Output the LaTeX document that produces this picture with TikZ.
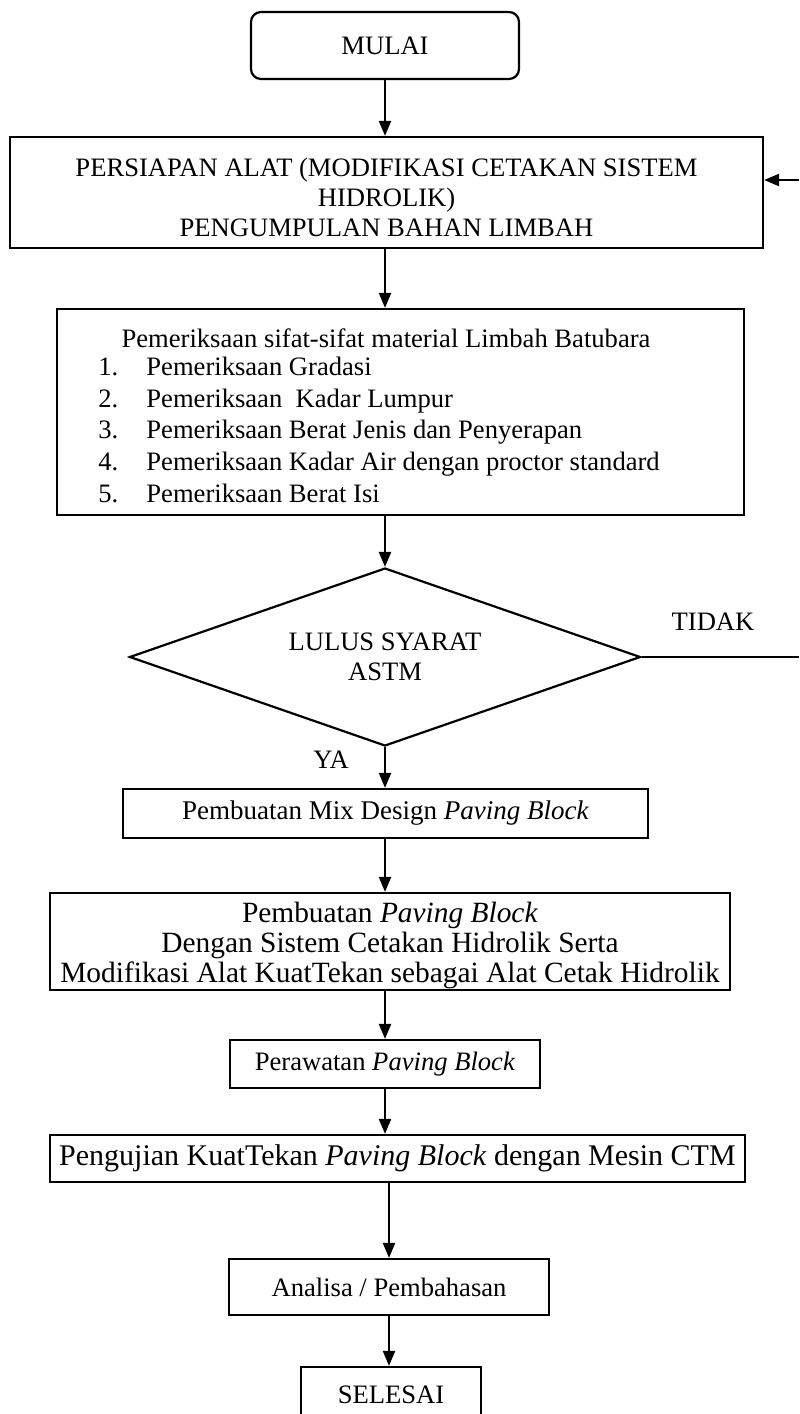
\documentclass[tikz,border=0pt]{standalone}
\usepackage{fontspec}
\setmainfont{Liberation Serif}
\usetikzlibrary{shapes.geometric,arrows.meta}
\tikzset{
	kotak/.style={draw, line width=1.1pt, inner sep=0pt, align=center},
	panah/.style={-{Triangle[width=6pt,length=7.5pt]}, line width=1.1pt},
}
\begin{document}
\begin{tikzpicture}[x=0.5pt,y=-0.5pt,font=\fontsize{13.3}{15}\selectfont]
		\useasboundingbox (0,0) rectangle (799,1414);
		\clip (0,0) rectangle (799,1414);
		\node [kotak, rounded corners=5pt, minimum width=134pt, minimum height=33.5pt] (mulai) at (385,45.5) {MULAI};
		\node [kotak, minimum width=376.5pt, minimum height=55.5pt] (persiapan) at (386.5,192.5) {};
		\node [align=center] (persiapanT) at (386.5,197) {PERSIAPAN ALAT (MODIFIKASI CETAKAN SISTEM\\ HIDROLIK)\\ PENGUMPULAN BAHAN LIMBAH};
		\node [kotak, minimum width=343.5pt, minimum height=103pt] (periksa) at (400.5,412) {};
		\node (judul) at (386,338) {Pemeriksaan sifat-sifat material Limbah Batubara};
		\node [anchor=base west, inner sep=0pt] (n1) at (98,375) {1.};
		\node [anchor=base west, inner sep=0pt] (t1) at (146,375) {Pemeriksaan Gradasi};
		\node [anchor=base west, inner sep=0pt] (n2) at (98,407) {2.};
		\node [anchor=base west, inner sep=0pt] (t2) at (146,407) {Pemeriksaan\ \ Kadar Lumpur};
		\node [anchor=base west, inner sep=0pt] (n3) at (98,438) {3.};
		\node [anchor=base west, inner sep=0pt] (t3) at (146,438) {Pemeriksaan Berat Jenis dan Penyerapan};
		\node [anchor=base west, inner sep=0pt] (n4) at (98,470) {4.};
		\node [anchor=base west, inner sep=0pt] (t4) at (146,470) {Pemeriksaan Kadar Air dengan proctor standard};
		\node [anchor=base west, inner sep=0pt] (n5) at (98,502) {5.};
		\node [anchor=base west, inner sep=0pt] (t5) at (146,502) {Pemeriksaan Berat Isi};
		\node [kotak, diamond, aspect=2.87, minimum width=255.5pt, minimum height=89pt] (lulus) at (385,657) {LULUS SYARAT\\ ASTM};
		\node (tidak) at (713,622) {TIDAK};
		\node (ya) at (331,760) {YA};
		\node [kotak, minimum width=262.5pt, minimum height=24.5pt, font=\fontsize{13.5}{15}\selectfont] (mix) at (385.5,813.5) {Pembuatan Mix Design \textit{Paving Block}};
		\node [kotak, minimum width=340pt, minimum height=48.5pt] (buat) at (390,941.5) {};
		\node [align=center, font=\fontsize{14.7}{15}\selectfont] (buatT) at (390,945.5) {Pembuatan \textit{Paving Block}\\ Dengan Sistem Cetakan Hidrolik Serta\\ Modifikasi Alat KuatTekan sebagai Alat Cetak Hidrolik};
		\node [kotak, minimum width=155pt, minimum height=24pt] (rawat) at (385,1064) {Perawatan \textit{Paving Block}};
		\node [kotak, minimum width=347.5pt, minimum height=23.5pt, font=\fontsize{15}{15}\selectfont] (uji) at (397.5,1158.5) {Pengujian KuatTekan \textit{Paving Block} dengan Mesin CTM};
		\node [kotak, minimum width=160pt, minimum height=28pt] (analisa) at (389,1287) {Analisa / Pembahasan};
		\node [kotak, minimum width=90pt, minimum height=28pt] (selesai) at (391,1395) {SELESAI};
		\coordinate (ujungA) at (799,657);
		\coordinate (ujungB) at (799,180);
		\draw [panah] (mulai.south) -- (mulai.south |- persiapan.north);
		\draw [panah] (persiapan.south -| lulus) -- (lulus |- periksa.north);
		\draw [panah] (periksa.south -| lulus) -- (lulus.north);
		\draw [panah] (lulus.south) -- (lulus |- mix.north);
		\draw [panah] (mix.south -| lulus) -- (lulus |- buat.north);
		\draw [panah] (buat.south -| lulus) -- (lulus |- rawat.north);
		\draw [panah] (rawat.south -| lulus) -- (lulus |- uji.north);
		\draw [panah] (uji.south -| analisa) -- (analisa.north);
		\draw [panah] (analisa.south) -- (analisa |- selesai.north);
		\draw [line width=1.1pt] (lulus.east) -- (ujungA);
		\draw [panah] (ujungB) -- (persiapan.east |- ujungB);
\end{tikzpicture}
\end{document}
